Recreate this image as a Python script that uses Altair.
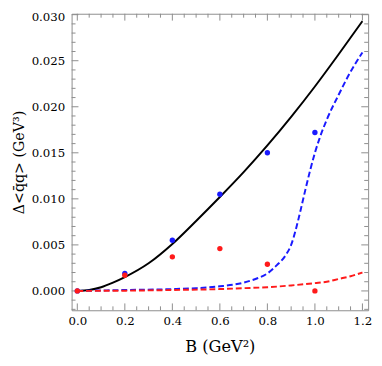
import altair as alt
import pandas as pd
import numpy as np

# ---------------- data ----------------
black_x = [0.0, 0.05, 0.1, 0.15, 0.2, 0.3, 0.4, 0.5, 0.6, 0.7, 0.8, 0.9, 1.0, 1.1, 1.2]
black_y = [0.0, 0.0001, 0.0004, 0.0009, 0.0015, 0.0030, 0.0051, 0.0076, 0.0102,
           0.0129, 0.0158, 0.0189, 0.0222, 0.0257, 0.0293]

blue_x = [0.0, 0.2, 0.4, 0.5, 0.6, 0.7, 0.75, 0.8, 0.84, 0.88, 0.9, 0.92, 0.94,
          0.96, 0.98, 1.0, 1.02, 1.05, 1.1, 1.15, 1.2]
blue_y = [0.0, 0.0001, 0.0002, 0.0003, 0.0005, 0.0009, 0.0013, 0.0019, 0.0028,
          0.0040, 0.0050, 0.0067, 0.0088, 0.0110, 0.0131, 0.0150, 0.0166, 0.0186,
          0.0213, 0.0238, 0.0259]

red_x = [0.0, 0.2, 0.4, 0.6, 0.7, 0.8, 0.9, 1.0, 1.05, 1.1, 1.15, 1.2]
red_y = [0.0, 0.00003, 0.0001, 0.0002, 0.0003, 0.0004, 0.0006, 0.00085, 0.0010,
         0.0013, 0.0016, 0.0020]

pts_x = [0.0, 0.2, 0.4, 0.6, 0.8, 1.0]
blue_pts = [0.0, 0.0019, 0.0055, 0.0105, 0.0150, 0.0172]
red_pts = [0.0, 0.0017, 0.0037, 0.0046, 0.0029, 0.0000]

x_major = [0.0, 0.2, 0.4, 0.6, 0.8, 1.0, 1.2]
y_major = [0.000, 0.005, 0.010, 0.015, 0.020, 0.025, 0.030]
x_minor_step = 0.05
y_minor_step = 0.001

XMIN, XMAX = -0.024, 1.224
YMIN, YMAX = -0.0021, 0.0301
W, H = 303, 303

FONT = "DejaVu Serif"
FRAME = "#8c8c8c"

# ---------------- frames ----------------
df_black = pd.DataFrame({"x": black_x, "y": black_y})
df_blue = pd.DataFrame({"x": blue_x, "y": blue_y})
df_red = pd.DataFrame({"x": red_x, "y": red_y})
df_bpts = pd.DataFrame({"x": pts_x, "y": blue_pts})
df_rpts = pd.DataFrame({"x": pts_x, "y": red_pts})

dx = (XMAX - XMIN) / W
dy = (YMAX - YMIN) / H
LMAJ, LMIN = 7, 4

rows = []
xm = [round(v, 4) for v in np.arange(0.0, 1.2001, x_minor_step)]
for v in xm:
    L = LMAJ if any(abs(v - m) < 1e-6 for m in x_major) else LMIN
    rows.append(dict(x=v, x2=v, y=YMIN, y2=YMIN + L * dy))
    rows.append(dict(x=v, x2=v, y=YMAX, y2=YMAX - L * dy))
ym = [round(v, 4) for v in np.arange(-0.002, 0.03001, y_minor_step)]
for v in ym:
    L = LMAJ if any(abs(v - m) < 1e-7 for m in y_major) else LMIN
    rows.append(dict(x=XMIN, x2=XMIN + L * dx, y=v, y2=v))
    rows.append(dict(x=XMAX, x2=XMAX - L * dx, y=v, y2=v))
df_ticks = pd.DataFrame(rows)

xs = alt.Scale(domain=[XMIN, XMAX], nice=False, zero=False)
ys = alt.Scale(domain=[YMIN, YMAX], nice=False, zero=False)

xaxis = alt.Axis(values=x_major, format=".1f", ticks=False, domain=False, grid=False,
                 labelFont=FONT, labelFontSize=12, labelColor="black", labelPadding=6,
                 title="B (GeV²)", titleFont=FONT, titleFontSize=16.5,
                 titleFontWeight="normal", titleColor="black", titlePadding=12)
yaxis = alt.Axis(values=y_major, format=".3f", ticks=False, domain=False, grid=False,
                 labelFont=FONT, labelFontSize=12, labelColor="black", labelPadding=7,
                 labelFlush=2, labelFlushOffset=3,
                 title="Δ<q̄q> (GeV³)", titleFont=FONT, titleFontSize=14.5,
                 titleFontWeight="normal", titleColor="black", titlePadding=5)

X = alt.X("x:Q", scale=xs, axis=xaxis)
Y = alt.Y("y:Q", scale=ys, axis=yaxis)

ticks = alt.Chart(df_ticks).mark_rule(color=FRAME, strokeWidth=1).encode(
    x=X, x2="x2:Q", y=Y, y2="y2:Q")

black = alt.Chart(df_black).mark_line(color="black", strokeWidth=2, interpolate="monotone").encode(x=X, y=Y)
blue = alt.Chart(df_blue).mark_line(color="#1a1aff", strokeWidth=2, strokeDash=[6, 3],
                                    interpolate="monotone").encode(x=X, y=Y)
red = alt.Chart(df_red).mark_line(color="#ff1a1a", strokeWidth=2, strokeDash=[6, 3],
                                  interpolate="monotone").encode(x=X, y=Y)
bpts = alt.Chart(df_bpts).mark_circle(color="#1a1aff", size=30, opacity=1).encode(x=X, y=Y)
rpts = alt.Chart(df_rpts).mark_circle(color="#ff1a1a", size=30, opacity=1).encode(x=X, y=Y)

chart = alt.layer(ticks, black, blue, red, bpts, rpts).properties(
    width=W, height=H,
    autosize=alt.AutoSizeParams(type="none"),
    padding={"left": 65, "top": 2, "right": 6, "bottom": 50},
    background="white",
).configure_view(stroke=FRAME, strokeWidth=1)

chart.save("out.html", embed_options={"renderer": "svg", "actions": False})
